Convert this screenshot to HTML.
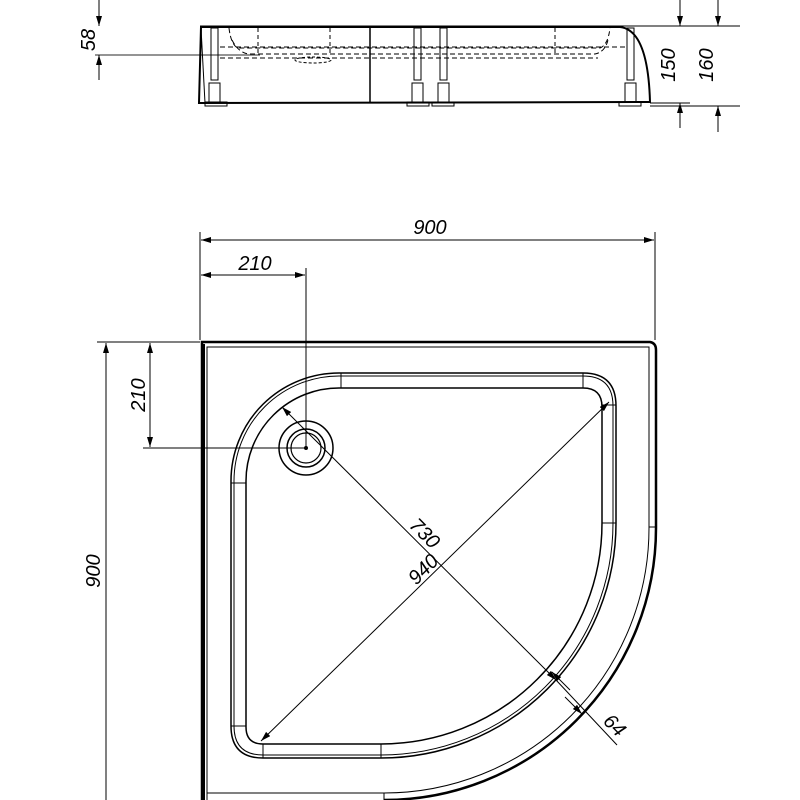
<!DOCTYPE html>
<html><head><meta charset="utf-8"><style>
html,body{margin:0;padding:0;background:#fff;width:800px;height:800px;overflow:hidden}
svg{display:block}
text{font-family:"Liberation Sans",sans-serif;font-style:italic;font-size:20px;fill:#000}
</style></head><body>
<svg width="800" height="800" viewBox="0 0 800 800" xmlns="http://www.w3.org/2000/svg">
<defs>
<marker id="a" viewBox="0 0 10 6" refX="10" refY="3" markerWidth="10" markerHeight="6" orient="auto-start-reverse" markerUnits="userSpaceOnUse"><path d="M0,0 L10,3 L0,6 z" fill="#000"/></marker>
</defs>
<g fill="none" stroke="#000">
<!-- SIDE VIEW -->
<line x1="200" y1="26" x2="740" y2="26" stroke-width="1"/>
<line x1="95" y1="55" x2="260" y2="55" stroke-width="1.2" stroke="#555"/>
<line x1="650" y1="103" x2="690" y2="103" stroke-width="1"/>
<line x1="650" y1="106" x2="740" y2="106" stroke-width="1"/>
<path d="M199,103 L201,27 L620,27 Q648,30 650,102 L199,103 Z" stroke-width="2"/>
<line x1="201" y1="28" x2="205" y2="103" stroke-width="1"/>
<line x1="370" y1="27" x2="370" y2="103" stroke-width="1.5"/>
<path d="M229,28 Q231,45 238,48 L600,48 Q608,45 610,28" stroke-width="1" stroke-dasharray="5,3"/>
<path d="M232,40 Q238,52 248,54 L595,54 Q605,52 608,40" stroke-width="1" stroke-dasharray="5,3"/>
<line x1="220" y1="58" x2="598" y2="58" stroke-width="1" stroke-dasharray="5,3"/>
<line x1="220" y1="47" x2="625" y2="47" stroke-width="1" stroke-dasharray="5,3"/>
<line x1="258" y1="28" x2="258" y2="55" stroke-width="1" stroke-dasharray="4,3"/>
<line x1="330" y1="28" x2="330" y2="55" stroke-width="1" stroke-dasharray="4,3"/>
<line x1="555" y1="28" x2="555" y2="55" stroke-width="1" stroke-dasharray="4,3"/>
<ellipse cx="313" cy="60" rx="18" ry="3" stroke-width="1" stroke-dasharray="3,2"/>
<g stroke-width="1">
<rect x="211" y="28" width="7" height="52"/><rect x="209" y="83" width="11" height="19"/><rect x="205" y="102" width="22" height="4"/>
<rect x="414" y="28" width="7" height="52"/><rect x="412" y="83" width="11" height="19"/><rect x="407" y="102" width="22" height="4"/>
<rect x="440" y="28" width="7" height="52"/><rect x="438" y="83" width="11" height="19"/><rect x="432" y="102" width="22" height="4"/>
<rect x="627" y="28" width="7" height="52"/><rect x="625" y="83" width="11" height="19"/><rect x="619" y="102" width="22" height="4"/>
</g>
<line x1="99" y1="0" x2="99" y2="26" stroke-width="1" marker-end="url(#a)"/>
<line x1="99" y1="80" x2="99" y2="55" stroke-width="1" marker-end="url(#a)"/>
<line x1="680" y1="0" x2="680" y2="26" stroke-width="1" marker-end="url(#a)"/>
<line x1="680" y1="128" x2="680" y2="103" stroke-width="1" marker-end="url(#a)"/>
<line x1="718" y1="0" x2="718" y2="26" stroke-width="1" marker-end="url(#a)"/>
<line x1="718" y1="132" x2="718" y2="106" stroke-width="1" marker-end="url(#a)"/>

<!-- PLAN VIEW dims -->
<line x1="200" y1="232" x2="200" y2="340" stroke-width="1"/>
<line x1="655" y1="232" x2="655" y2="340" stroke-width="1"/>
<line x1="201" y1="240" x2="654" y2="240" stroke-width="1" marker-start="url(#a)" marker-end="url(#a)"/>
<line x1="306" y1="268" x2="306" y2="448" stroke-width="1"/>
<line x1="201" y1="275" x2="305" y2="275" stroke-width="1" marker-start="url(#a)" marker-end="url(#a)"/>
<line x1="97" y1="342" x2="200" y2="342" stroke-width="1"/>
<line x1="143" y1="448" x2="306" y2="448" stroke-width="1"/>
<line x1="106" y1="343" x2="106" y2="800" stroke-width="1" marker-start="url(#a)"/>
<line x1="150" y1="343" x2="150" y2="447" stroke-width="1" marker-start="url(#a)" marker-end="url(#a)"/>

<!-- outer tray -->
<path d="M202,800 L202,342 L650,342 Q656,343 656,350 L656,528 A272,272 0 0 1 384,800" stroke-width="2.5"/>
<line x1="204" y1="344" x2="204" y2="800" stroke-width="2"/>
<path d="M207,800 L207,347 L649,347 L649,528 A265,265 0 0 1 384,793 L207,793" stroke-width="1"/>
<line x1="649" y1="527" x2="656" y2="527" stroke-width="1"/>
<line x1="384" y1="793" x2="384" y2="800" stroke-width="1"/>

<!-- inner rim -->
<path d="M340,373 L583,373 Q616,373 616,406 L616,523 A235,235 0 0 1 381,758 L263,758 Q231,758 231,726 L231,481 A108,108 0 0 1 340,373 Z" stroke-width="1.5"/>
<path d="M340,376 L583,376 Q613,376 613,406 L613,523 A232,232 0 0 1 381,755 L263,755 Q234,755 234,726 L234,481 A105,105 0 0 1 340,376 Z" stroke-width="1"/>
<path d="M340,388 L583,388 Q602,388 602,407 L602,523 A221,221 0 0 1 381,744 L263,744 Q246,744 246,727 L246,481 A93,93 0 0 1 340,388 Z" stroke-width="1.5"/>
<line x1="341" y1="373" x2="341" y2="388"/><line x1="583" y1="373" x2="583" y2="388"/>
<line x1="602" y1="405" x2="616" y2="405"/><line x1="602" y1="523" x2="616" y2="523"/>
<line x1="231" y1="483" x2="246" y2="483"/><line x1="231" y1="726" x2="246" y2="726"/>
<line x1="263" y1="744" x2="263" y2="758"/><line x1="381" y1="744" x2="381" y2="758"/>

<!-- drain -->
<circle cx="306" cy="448" r="27" stroke-width="1.5"/>
<circle cx="306" cy="448" r="19" stroke-width="1.5"/>
<circle cx="306" cy="448" r="15" stroke-width="1.2"/>
<circle cx="306" cy="448" r="1.5" fill="#000"/>

<!-- diagonals -->
<line x1="261" y1="741" x2="609" y2="402" stroke-width="1" marker-start="url(#a)" marker-end="url(#a)"/>
<line x1="282" y1="407" x2="556" y2="680" stroke-width="1" marker-start="url(#a)" marker-end="url(#a)"/>
<line x1="556" y1="680" x2="617" y2="745" stroke-width="1"/>
<line x1="570" y1="690" x2="552" y2="672" stroke-width="1" marker-end="url(#a)"/>
<line x1="565" y1="697" x2="582" y2="714" stroke-width="1" marker-end="url(#a)"/>
</g>
<text transform="translate(95,40) rotate(-90)" text-anchor="middle">58</text>
<text transform="translate(675,65) rotate(-90)" text-anchor="middle">150</text>
<text transform="translate(713,65) rotate(-90)" text-anchor="middle">160</text>
<text x="430" y="234" text-anchor="middle">900</text>
<text x="255" y="270" text-anchor="middle">210</text>
<text transform="translate(100,571) rotate(-90)" text-anchor="middle">900</text>
<text transform="translate(145,395) rotate(-90)" text-anchor="middle">210</text>
<text transform="translate(420,538) rotate(45)" text-anchor="middle">730</text>
<text transform="translate(428,574) rotate(-45)" text-anchor="middle">940</text>
<text transform="translate(610,730) rotate(45)" text-anchor="middle">64</text>
</svg>
</body></html>
